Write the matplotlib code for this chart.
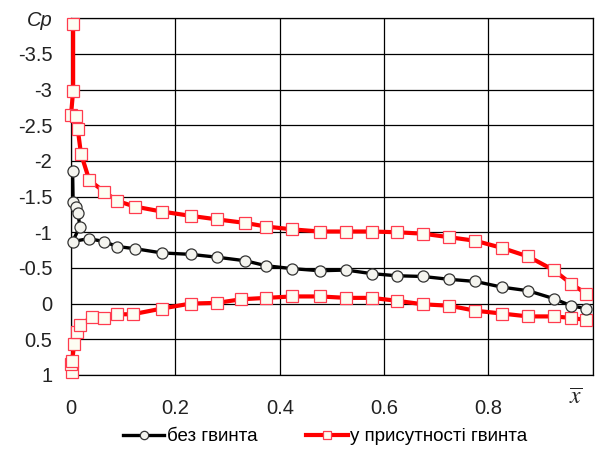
import matplotlib
matplotlib.use("Agg")
import matplotlib.pyplot as plt

plt.rcParams['font.family'] = ['Liberation Sans', 'DejaVu Sans']
plt.rcParams['mathtext.fontset'] = 'stix'

# без гвинта (without propeller)
x_no = [0.003, 0.004, 0.009, 0.013, 0.017, 0.003, 0.034, 0.063, 0.088, 0.122, 0.174,
        0.229, 0.280, 0.334, 0.374, 0.424, 0.477, 0.527, 0.576, 0.624, 0.674,
        0.725, 0.775, 0.826, 0.876, 0.925, 0.958, 0.987]
cp_no = [-1.86, -1.42, -1.35, -1.27, -1.08, -0.87, -0.91, -0.87, -0.80, -0.77, -0.71,
         -0.69, -0.65, -0.60, -0.53, -0.49, -0.46, -0.47, -0.42, -0.39, -0.38,
         -0.34, -0.31, -0.23, -0.18, -0.07, 0.03, 0.07]

# у присутності гвинта (with propeller) - upper surface
x_up = [0.004, 0.004, 0.000, 0.010, 0.013, 0.019, 0.035, 0.063, 0.088, 0.122, 0.174,
        0.229, 0.280, 0.334, 0.374, 0.424, 0.477, 0.527, 0.576, 0.624, 0.674,
        0.725, 0.775, 0.826, 0.876, 0.925, 0.958, 0.987]
cp_up = [-3.92, -2.98, -2.65, -2.63, -2.44, -2.10, -1.73, -1.57, -1.44, -1.36, -1.29,
         -1.23, -1.18, -1.13, -1.08, -1.04, -1.01, -1.01, -1.01, -1.00, -0.98,
         -0.93, -0.88, -0.78, -0.66, -0.47, -0.28, -0.14]

# у присутності гвинта (with propeller) - lower surface
x_lo = [0.001, 0.000, 0.002, 0.006, 0.011, 0.017, 0.040, 0.063, 0.088, 0.118, 0.174,
        0.229, 0.280, 0.326, 0.374, 0.424, 0.477, 0.527, 0.576, 0.624, 0.674,
        0.725, 0.775, 0.826, 0.876, 0.925, 0.958, 0.987]
cp_lo = [0.96, 0.84, 0.81, 0.57, 0.40, 0.30, 0.19, 0.20, 0.15, 0.15, 0.07,
         0.00, -0.01, -0.06, -0.08, -0.10, -0.10, -0.08, -0.08, -0.04, 0.01,
         0.03, 0.10, 0.14, 0.18, 0.18, 0.20, 0.23]

y_ticks = [-4, -3.5, -3, -2.5, -2, -1.5, -1, -0.5, 0, 0.5, 1]
y_labels = ['Cp', '-3.5', '-3', '-2.5', '-2', '-1.5', '-1', '-0.5', '0', '0.5', '1']
x_ticks = [0, 0.2, 0.4, 0.6, 0.8, 1.0]
x_labels = ['0', '0.2', '0.4', '0.6', '0.8', '']

fig = plt.figure(figsize=(5.97, 4.55), dpi=100)
ax = fig.add_axes([0.119, 0.176, 0.874, 0.784])

red = '#ff0000'
red_edge = '#ff3b4e'
ln_no, = ax.plot(x_no, cp_no, color='black', lw=2.4, marker='o', ms=8.0,
                 mfc='#f4f4ef', mec='#333333', mew=0.9, zorder=4, clip_on=False,
                 label='без гвинта')
ln_up, = ax.plot(x_up, cp_up, color=red, lw=3.0, marker='s', ms=8.2,
                 mfc='#fdfdf2', mec=red_edge, mew=0.9, zorder=3, clip_on=False,
                 label='у присутності гвинта')
ax.plot(x_lo, cp_lo, color=red, lw=3.0, marker='s', ms=8.2,
        mfc='#fdfdf2', mec=red_edge, mew=0.9, zorder=3, clip_on=False)

ax.set_xlim(0, 1.0)
ax.set_ylim(1, -4)
ax.set_yticks(y_ticks)
ax.set_yticklabels(y_labels)
ax.set_xticks(x_ticks)
ax.set_xticklabels(x_labels)
ax.grid(True, color='black', lw=0.9)
ax.set_axisbelow(True)
ax.tick_params(axis='both', length=0, labelsize=14.5, colors='#222222')
ax.tick_params(axis='y', pad=13.5)
ax.tick_params(axis='x', pad=17)
ylab = ax.get_yticklabels()
ylab[0].set_fontstyle('italic')
for s in ax.spines.values():
    s.set_color('black')
    s.set_linewidth(0.9)

ax.text(0.967, 1.0 + 0.33, r'$\overline{x}$', fontsize=17, ha='center', va='center',
        color='#222222', clip_on=False)

fig.legend(handles=[ln_no, ln_up], loc='center', bbox_to_anchor=(0.545, 0.04), ncol=2,
           frameon=False, fontsize=13.5, handlelength=2.2, handletextpad=0.15,
           columnspacing=2.6, markerscale=0.75)

fig.savefig('out.png', dpi=100)
